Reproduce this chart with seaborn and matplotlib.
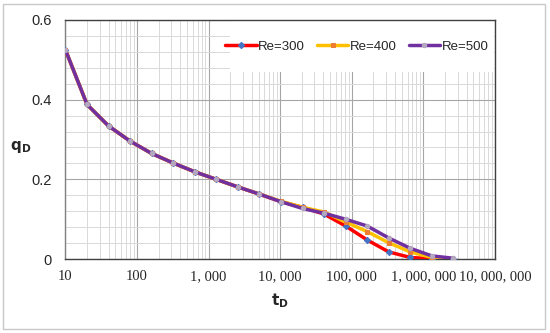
import numpy as np
import pandas as pd
import matplotlib
matplotlib.use("Agg")
import matplotlib.pyplot as plt
import matplotlib.ticker as mticker
from matplotlib.patches import Rectangle
import seaborn as sns

# dimensionless time, points every factor of 2
t_D = [10, 20, 40, 80, 160, 320, 640, 1280, 2560, 5120, 10240, 20480,
       40960, 81920, 163840, 327680, 655360, 1310720, 2621440]

q_re300 = [0.525, 0.388, 0.334, 0.296, 0.265, 0.241, 0.219, 0.200, 0.181, 0.163,
           0.144, 0.130, 0.113, 0.083, 0.048, 0.018, 0.004, 0.001, 0.000]
q_re400 = [0.525, 0.388, 0.334, 0.296, 0.265, 0.241, 0.219, 0.200, 0.181, 0.163,
           0.145, 0.130, 0.118, 0.093, 0.069, 0.041, 0.018, 0.004, 0.001]
q_re500 = [0.525, 0.388, 0.334, 0.296, 0.265, 0.241, 0.219, 0.200, 0.181, 0.163,
           0.144, 0.127, 0.115, 0.100, 0.083, 0.053, 0.027, 0.008, 0.002]

labels = ["Re=300", "Re=400", "Re=500"]
x_ticks = [10, 100, 1000, 10000, 100000, 1000000, 10000000]

df = pd.DataFrame({"t": t_D * 3,
                   "q": q_re300 + q_re400 + q_re500,
                   "Re": [labels[0]] * len(t_D) + [labels[1]] * len(t_D) + [labels[2]] * len(t_D)})

sns.set_style("white")
plt.rcParams['font.family'] = ['Liberation Sans', 'DejaVu Sans']

fig = plt.figure(figsize=(5.5, 3.33), dpi=100)
ax = fig.add_axes([0.119, 0.222, 0.781, 0.718])
fig.patches.append(Rectangle((0.006, 0.012), 0.985, 0.976, transform=fig.transFigure,
                             fill=False, edgecolor="#c8c8c8", linewidth=1))

styles = {
    "Re=300": dict(color="#ff0000", marker="D", mfc="#4472c4", mec="#4472c4", ms=3.2),
    "Re=400": dict(color="#ffc000", marker="s", mfc="#ed7d31", mec="#ed7d31", ms=3.2),
    "Re=500": dict(color="#7030a0", marker="o", mfc="#b4a7c0", mec="#b4a7c0", ms=3.2),
}
for lab in labels:
    sub = df[df["Re"] == lab]
    st = styles[lab]
    sns.lineplot(data=sub, x="t", y="q", ax=ax, color=st["color"], linewidth=2.5,
                 marker=st["marker"], markerfacecolor=st["mfc"], markeredgecolor=st["mec"],
                 markersize=st["ms"], label=lab, zorder=3)

ax.set_xscale("log")
ax.set_xlim(10, 1e7)
ax.set_ylim(0, 0.6)
ax.set_xticks(x_ticks)
ax.xaxis.set_major_formatter(mticker.FuncFormatter(lambda v, p: f"{int(round(v)):,}".replace(",", ", ")))
ax.xaxis.set_minor_locator(mticker.LogLocator(base=10, subs=np.arange(2, 10)))
ax.xaxis.set_minor_formatter(mticker.NullFormatter())
ax.set_yticks([0, 0.2, 0.4, 0.6])
ax.set_yticklabels(["0", "0.2", "0.4", "0.6"])
ax.yaxis.set_minor_locator(mticker.MultipleLocator(0.04))

ax.grid(True, which="major", color="#a6a6a6", linewidth=0.8)
ax.grid(True, which="minor", color="#d9d9d9", linewidth=0.7)
ax.set_axisbelow(True)
ax.tick_params(which="both", length=0)
ax.tick_params(axis="y", pad=10, labelsize=10.5)
ax.tick_params(axis="x", pad=8, labelsize=10.5)
for lbl in ax.get_xticklabels():
    lbl.set_fontfamily("Liberation Serif")
for s in ax.spines.values():
    s.set_color("#404040")
    s.set_linewidth(1)
ax.spines["left"].set_color("#808080")

ax.set_xlabel(r"$\mathbf{t_D}$", fontsize=11, labelpad=6)
ax.set_ylabel(r"$\mathbf{q_D}$", fontsize=11, rotation=0, va="center", ha="center")
ax.yaxis.set_label_coords(-0.105, 0.47)

# white legend area covering the grid in the top right corner
ax.add_patch(Rectangle((0.384, 0.782), 0.614, 0.215, transform=ax.transAxes,
                       facecolor="white", edgecolor="none", zorder=1))
leg = ax.legend(loc="center right", bbox_to_anchor=(1.0, 0.887), ncol=3, frameon=False,
                borderaxespad=0.2, borderpad=0.3,
                handlelength=2.4, handletextpad=0.1, columnspacing=0.9, fontsize=9.5)

fig.savefig("out.png", dpi=100)
